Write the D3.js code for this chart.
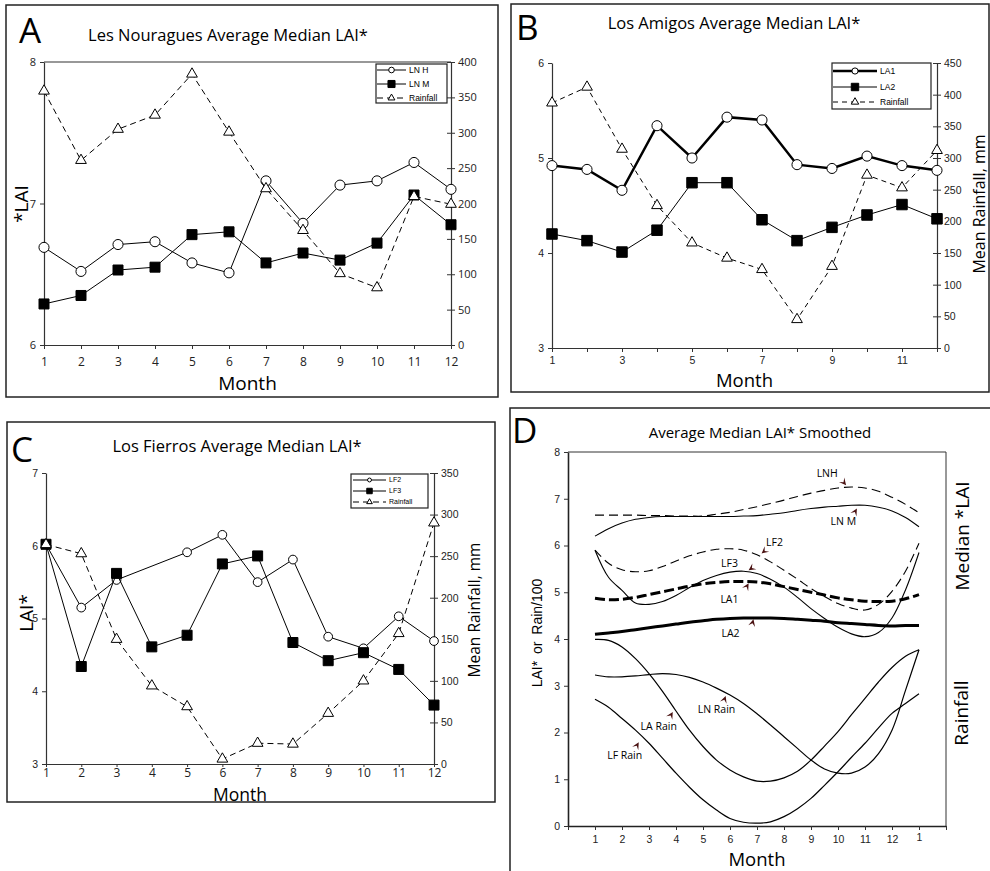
<!DOCTYPE html>
<html>
<head>
<meta charset="utf-8">
<script src="https://cdn.jsdelivr.net/npm/d3@7"></script>
<style>
  body { margin: 0; background: #fff; }
  svg { display: block; }
</style>
</head>
<body>
<div id="chart"></div>
<script>
// ---- data ----
const months = [1, 2, 3, 4, 5, 6, 7, 8, 9, 10, 11, 12];

// A: Les Nouragues
const lnH    = [6.69, 6.52, 6.71, 6.73, 6.58, 6.51, 7.16, 6.86, 7.13, 7.16, 7.29, 7.10];
const lnM    = [6.29, 6.35, 6.53, 6.55, 6.78, 6.80, 6.58, 6.65, 6.60, 6.72, 7.06, 6.85];
const lnRain = [359, 261, 305, 325, 383, 301, 221, 162, 101, 81, 210, 199];

// B: Los Amigos
const la1    = [4.92, 4.88, 4.66, 5.34, 5.00, 5.43, 5.40, 4.93, 4.89, 5.02, 4.92, 4.87];
const la2    = [4.20, 4.13, 4.01, 4.24, 4.74, 4.74, 4.35, 4.13, 4.27, 4.40, 4.51, 4.36];
const laRain = [387, 412, 314, 225, 166, 142, 124, 45, 129, 273, 253, 312];

// C: Los Fierros (LF2 has no month 4)
const lf2    = [6.02, 5.15, 5.53, null, 5.91, 6.15, 5.50, 5.81, 4.75, 4.59, 5.03, 4.69];
const lf3    = [6.02, 4.34, 5.62, 4.61, 4.77, 5.75, 5.86, 4.67, 4.42, 4.53, 4.30, 3.81];
const lfRain = [264, 253, 150, 94, 69, 6, 25, 24, 61, 100, 157, 290];

// D: smoothed curves, half-month steps from month 1 to month 13 (= next January)
const halfMonths = d3.range(1, 13.01, 0.5);
const sLNH    = [6.65, 6.65, 6.65, 6.65, 6.64, 6.64, 6.63, 6.63, 6.63, 6.67, 6.71, 6.77, 6.83, 6.90, 6.97, 7.05, 7.12, 7.18, 7.23, 7.25, 7.23, 7.16, 7.03, 6.88, 6.70];
const sLNM    = [6.20, 6.36, 6.48, 6.56, 6.60, 6.62, 6.62, 6.62, 6.62, 6.62, 6.62, 6.63, 6.64, 6.67, 6.70, 6.75, 6.79, 6.82, 6.84, 6.86, 6.86, 6.82, 6.74, 6.60, 6.40];
const sLF2    = [5.90, 5.62, 5.48, 5.44, 5.46, 5.55, 5.67, 5.78, 5.86, 5.92, 5.93, 5.90, 5.80, 5.65, 5.47, 5.28, 5.08, 4.91, 4.76, 4.66, 4.62, 4.74, 5.02, 5.45, 6.05];
const sLF3    = [5.90, 5.32, 5.04, 4.77, 4.74, 4.80, 4.93, 5.10, 5.25, 5.36, 5.43, 5.45, 5.40, 5.28, 5.11, 4.89, 4.65, 4.44, 4.25, 4.11, 4.05, 4.14, 4.45, 5.05, 5.85];
const sLA1    = [4.87, 4.84, 4.85, 4.89, 4.95, 5.01, 5.07, 5.13, 5.18, 5.21, 5.23, 5.23, 5.22, 5.18, 5.12, 5.06, 5.00, 4.94, 4.88, 4.84, 4.81, 4.80, 4.81, 4.86, 4.95];
const sLA2    = [4.10, 4.13, 4.16, 4.20, 4.24, 4.28, 4.32, 4.36, 4.39, 4.42, 4.44, 4.45, 4.45, 4.45, 4.44, 4.42, 4.40, 4.38, 4.35, 4.33, 4.31, 4.29, 4.28, 4.29, 4.29];
const sLNRain = [3.23, 3.19, 3.19, 3.21, 3.24, 3.26, 3.24, 3.18, 3.08, 2.95, 2.80, 2.62, 2.40, 2.16, 1.91, 1.66, 1.41, 1.22, 1.13, 1.13, 1.26, 1.55, 2.05, 2.90, 3.77];
const sLARain = [3.99, 3.97, 3.83, 3.58, 3.26, 2.88, 2.46, 2.05, 1.70, 1.41, 1.20, 1.05, 0.96, 0.96, 1.03, 1.17, 1.41, 1.71, 2.02, 2.38, 2.73, 3.08, 3.39, 3.63, 3.77];
const sLFRain = [2.71, 2.54, 2.30, 2.05, 1.77, 1.45, 1.13, 0.83, 0.56, 0.34, 0.16, 0.08, 0.06, 0.09, 0.20, 0.37, 0.59, 0.87, 1.16, 1.47, 1.77, 2.10, 2.41, 2.62, 2.83];

// labels in D: text position and arrow tip, in month / value units
const dNotes = [
  {label: "LNH",     tx: 9.6,  ty: 7.54, ax: 10.3, ay: 7.29, ang: 50},
  {label: "LN M",    tx: 10.2, ty: 6.52, ax: 10.7, ay: 6.79, ang: -60},
  {label: "LF2",     tx: 7.65, ty: 6.07, ax: 7.17, ay: 5.83, ang: 140},
  {label: "LF3",     tx: 5.98, ty: 5.62, ax: 6.69, ay: 5.47, ang: 145},
  {label: "LA1",     tx: 5.98, ty: 4.85, ax: 6.69, ay: 5.19, ang: -60},
  {label: "LA2",     tx: 6.02, ty: 4.12, ax: 6.87, ay: 4.42, ang: -75},
  {label: "LN Rain", tx: 5.5,  ty: 2.5,  ax: 5.84, ay: 2.78, ang: -70},
  {label: "LA Rain", tx: 3.36, ty: 2.14, ax: 3.88, ay: 2.44, ang: -60},
  {label: "LF Rain", tx: 2.1,  ty: 1.52, ax: 2.62, ay: 1.79, ang: -60}
];

// ---- drawing ----
const SANS = "'Open Sans', sans-serif";
const ARIAL = "'Liberation Sans', Arial, sans-serif";

const svg = d3.select("#chart").append("svg")
    .attr("width", 990)
    .attr("height", 871);

function symbolPath(type, size) {
  const t = {circle: d3.symbolCircle, square: d3.symbolSquare, triangle: d3.symbolTriangle}[type];
  return d3.symbol(t, size)();
}

function drawPanel(p) {
  const g = svg.append("g");

  // outer frame
  g.append("rect")
      .attr("x", p.box[0]).attr("y", p.box[1])
      .attr("width", p.box[2] - p.box[0]).attr("height", p.box[3] - p.box[1])
      .attr("fill", "none").attr("stroke", "#222").attr("stroke-width", 1.5);

  g.append("text").attr("x", p.letter[0]).attr("y", p.letter[1])
      .style("font-family", SANS).style("font-size", "35px").text(p.name);
  g.append("text").attr("x", p.title[0]).attr("y", p.title[1])
      .attr("text-anchor", "middle")
      .style("font-family", SANS).style("font-size", "16.5px").text(p.titleText);

  const x = d3.scaleLinear().domain([1, 12]).range([p.x0, p.x1]);
  const yL = d3.scaleLinear().domain(p.leftDomain).range([p.y1, p.y0]);
  const yR = d3.scaleLinear().domain(p.rightDomain).range([p.y1, p.y0]);

  if (p.topLine) {
    g.append("line").attr("x1", p.x0).attr("x2", p.x1).attr("y1", p.y0).attr("y2", p.y0)
        .attr("stroke", "#333").attr("stroke-width", 1.2);
  }

  const xAxis = g.append("g")
      .attr("transform", `translate(0,${p.y1})`)
      .call(d3.axisBottom(x).tickValues(months).tickSize(p.xTick || 4).tickSizeOuter(0)
          .tickPadding(p.xPad).tickFormat(p.xFormat || (d => d)));
  xAxis.selectAll("text").style("font-family", p.xFont).style("font-size", p.xFontSize);

  const leftAxis = g.append("g")
      .attr("transform", `translate(${p.x0},0)`)
      .call(d3.axisLeft(yL).tickValues(p.leftTicks).tickSize(4).tickSizeOuter(0)
          .tickPadding(4).tickFormat(d3.format("d")));
  leftAxis.selectAll("text").style("font-family", p.yFont).style("font-size", p.yFontSize);

  const rightAxis = g.append("g")
      .attr("transform", `translate(${p.x1},0)`)
      .call(d3.axisRight(yR).tickValues(d3.range(p.rightDomain[0], p.rightDomain[1] + 1, 50))
          .tickSize(4).tickSizeOuter(0).tickPadding(3));
  rightAxis.selectAll(".tick line").attr("x1", -4);
  rightAxis.selectAll("text").style("font-family", p.yFont).style("font-size", p.rFontSize);

  [xAxis, leftAxis, rightAxis].forEach(a => {
    a.select(".domain").attr("stroke", "#333").attr("stroke-width", 1.2);
    a.selectAll(".tick line").attr("stroke", "#333");
    a.selectAll("text").attr("fill", "#222");
  });

  // axis titles
  g.append("text").attr("x", (p.x0 + p.x1) / 2).attr("y", p.monthY)
      .attr("text-anchor", "middle")
      .style("font-family", SANS).style("font-size", p.monthSize || "19px").text("Month");
  if (p.leftLabel) {
    g.append("text")
        .attr("transform", `translate(${p.leftLabel[0]},${p.leftLabel[1]}) rotate(-90)`)
        .attr("text-anchor", "middle").attr("dy", "0.35em")
        .style("font-family", SANS).style("font-size", "19px").text(p.leftLabel[2]);
  }
  if (p.rightLabel) {
    g.append("text")
        .attr("transform", `translate(${p.rightLabel[0]},${p.rightLabel[1]}) rotate(-90)`)
        .attr("text-anchor", "middle").attr("dy", "0.35em")
        .style("font-family", SANS).style("font-size", p.rightLabel[2]).text("Mean Rainfall, mm");
  }

  // series
  p.series.forEach(s => {
    const y = s.axis === "left" ? yL : yR;
    const pts = months.map((m, i) => [m, s.values[i]]).filter(d => d[1] != null);
    g.append("path").datum(pts)
        .attr("d", d3.line().x(d => x(d[0])).y(d => y(d[1])))
        .attr("fill", "none").attr("stroke", "#000")
        .attr("stroke-width", s.width).attr("stroke-dasharray", s.dash || null);
    g.selectAll(null).data(pts).join("path")
        .attr("transform", d => `translate(${x(d[0])},${y(d[1])})`)
        .attr("d", symbolPath(s.marker, s.size))
        .attr("fill", s.marker === "square" ? "#000" : "#fff")
        .attr("stroke", "#000").attr("stroke-width", 1);
  });

  // legend
  const L = p.legend;
  const lg = g.append("g");
  lg.append("rect").attr("x", L.box[0]).attr("y", L.box[1])
      .attr("width", L.box[2] - L.box[0]).attr("height", L.box[3] - L.box[1])
      .attr("fill", "#fff").attr("stroke", "#222").attr("stroke-width", 1.2);
  p.series.forEach((s, i) => {
    const ry = L.rows[i];
    lg.append("line").attr("x1", L.lineX[0]).attr("x2", L.lineX[1]).attr("y1", ry).attr("y2", ry)
        .attr("stroke", "#000").attr("stroke-width", s.width).attr("stroke-dasharray", s.dash || null);
    lg.append("path").attr("transform", `translate(${(L.lineX[0] + L.lineX[1]) / 2},${ry})`)
        .attr("d", symbolPath(s.marker, s.legendSize))
        .attr("fill", s.marker === "square" ? "#000" : "#fff")
        .attr("stroke", "#000");
    lg.append("text").attr("x", L.textX).attr("y", ry).attr("dy", "0.35em")
        .style("font-family", ARIAL).style("font-size", L.font).text(s.name);
  });
}

drawPanel({
  name: "A", letter: [19, 43], title: [228, 41], titleText: "Les Nouragues Average Median LAI*",
  box: [6, 5, 498, 397], x0: 44, x1: 451, y0: 62, y1: 345, topLine: true,
  leftDomain: [6, 8], leftTicks: [6, 7, 8], rightDomain: [0, 400],
  xPad: 8, xFont: SANS, xFontSize: "12px", yFont: SANS, yFontSize: "11px", rFontSize: "11px",
  monthY: 390, leftLabel: [21, 204, "*LAI"], rightLabel: null,
  series: [
    {name: "LN H", values: lnH, axis: "left", marker: "circle", size: 80, legendSize: 25, width: 1},
    {name: "LN M", values: lnM, axis: "left", marker: "square", size: 100, legendSize: 50, width: 1},
    {name: "Rainfall", values: lnRain, axis: "right", marker: "triangle", size: 50, legendSize: 20, width: 1, dash: "6,4"}
  ],
  legend: {box: [376, 64, 447, 103], rows: [70, 84, 98], lineX: [377, 406], textX: 409, font: "8.5px"}
});

drawPanel({
  name: "B", letter: [516, 40], title: [734, 29], titleText: "Los Amigos Average Median LAI*",
  box: [511, 4, 989, 392], x0: 552, x1: 937, y0: 63, y1: 348, topLine: false,
  leftDomain: [3, 6], leftTicks: [3, 4, 5, 6], rightDomain: [0, 450],
  xPad: 5, xFont: ARIAL, xFontSize: "10.5px", yFont: ARIAL, yFontSize: "10.5px", rFontSize: "10.5px",
  xFormat: d => (d % 2 === 1 ? d : ""),
  monthY: 387, monthSize: "18.5px", leftLabel: null, rightLabel: [979, 204, "16px"],
  series: [
    {name: "LA1", values: la1, axis: "left", marker: "circle", size: 80, legendSize: 30, width: 2.5},
    {name: "LA2", values: la2, axis: "left", marker: "square", size: 110, legendSize: 55, width: 1},
    {name: "Rainfall", values: laRain, axis: "right", marker: "triangle", size: 50, legendSize: 24, width: 1, dash: "5,4"}
  ],
  legend: {box: [832, 63, 931, 109], rows: [71, 87, 102], lineX: [833, 877], textX: 880, font: "8.5px"}
});

drawPanel({
  name: "C", letter: [11, 462], title: [237, 452], titleText: "Los Fierros Average Median LAI*",
  box: [7, 422, 495, 802], x0: 46, x1: 434, y0: 473, y1: 764, topLine: false,
  leftDomain: [3, 7], leftTicks: [3, 4, 5, 6, 7], rightDomain: [0, 350],
  xTick: 3, xPad: 1.5, xFont: SANS, xFontSize: "12px", yFont: ARIAL, yFontSize: "10.5px", rFontSize: "10.5px",
  monthY: 801, monthSize: "17.5px", leftLabel: [26, 613, "LAI*"], rightLabel: [475, 610, "15.5px"],
  series: [
    {name: "LF2", values: lf2, axis: "left", marker: "circle", size: 60, legendSize: 12, width: 1},
    {name: "LF3", values: lf3, axis: "left", marker: "square", size: 100, legendSize: 30, width: 1},
    {name: "Rainfall", values: lfRain, axis: "right", marker: "triangle", size: 50, legendSize: 14, width: 1, dash: "6,4"}
  ],
  legend: {box: [351, 474, 428, 508], rows: [480, 491, 502], lineX: [353, 386], textX: 389, font: "7px"}
});

// ---- panel D ----
const gD = svg.append("g");
gD.append("path")
    .attr("d", "M510,871 V408 H990")
    .attr("fill", "none").attr("stroke", "#222").attr("stroke-width", 1.5);
gD.append("text").attr("x", 512).attr("y", 443)
    .style("font-family", SANS).style("font-size", "35px").text("D");
gD.append("text").attr("x", 760).attr("y", 438).attr("text-anchor", "middle")
    .style("font-family", SANS).style("font-size", "15px").text("Average Median LAI* Smoothed");

const xD = d3.scaleLinear().domain([0, 14]).range([568, 946]);
const yD = d3.scaleLinear().domain([0, 8]).range([826, 452]);

// plot frame (top and right)
gD.append("path")
    .attr("d", `M${xD(0)},${yD(8)} H${xD(14)} V${yD(0)}`)
    .attr("fill", "none").attr("stroke", "#333").attr("stroke-width", 1);

const dxAxis = gD.append("g")
    .attr("transform", `translate(0,${yD(0)})`)
    .call(d3.axisBottom(xD).tickValues(d3.range(0, 15)).tickSize(4).tickSizeOuter(0).tickPadding(6)
        .tickFormat(d => (d >= 1 && d <= 12 ? d : d === 13 ? "1" : "")));
dxAxis.selectAll(".tick").filter(d => d === 13).select("text").attr("dy", "0.5em");

const dyAxis = gD.append("g")
    .attr("transform", `translate(${xD(0)},0)`)
    .call(d3.axisLeft(yD).tickValues(d3.range(0, 9)).tickSize(4).tickSizeOuter(0).tickPadding(4));

[dxAxis, dyAxis].forEach(a => {
  a.select(".domain").attr("stroke", "#222").attr("stroke-width", 1.6);
  a.selectAll(".tick line").attr("stroke", "#333");
  a.selectAll("text").attr("fill", "#222").style("font-family", ARIAL).style("font-size", "10.5px");
});

gD.append("text").attr("x", (xD(0) + xD(14)) / 2).attr("y", 866).attr("text-anchor", "middle")
    .style("font-family", SANS).style("font-size", "18.5px").text("Month");
gD.append("text").attr("transform", "translate(537,633) rotate(-90)")
    .attr("text-anchor", "middle").attr("dy", "0.35em")
    .style("font-family", ARIAL).style("font-size", "14px").style("word-spacing", "3px")
    .text("LAI* or Rain/100");
gD.append("text").attr("transform", "translate(962,536) rotate(-90)")
    .attr("text-anchor", "middle").attr("dy", "0.35em")
    .style("font-family", SANS).style("font-size", "19px").text("Median *LAI");
gD.append("text").attr("transform", "translate(961,713) rotate(-90)")
    .attr("text-anchor", "middle").attr("dy", "0.35em")
    .style("font-family", SANS).style("font-size", "19px").text("Rainfall");

const smoothSeries = [
  {values: sLNH, width: 1.1, dash: "9,5"},
  {values: sLNM, width: 1.1},
  {values: sLF2, width: 1.1, dash: "9,5"},
  {values: sLF3, width: 1.1},
  {values: sLA1, width: 3, dash: "10,4"},
  {values: sLA2, width: 3},
  {values: sLNRain, width: 1.2},
  {values: sLARain, width: 1.2},
  {values: sLFRain, width: 1.2}
];

const dLine = d3.line().x(d => xD(d[0])).y(d => yD(d[1])).curve(d3.curveCatmullRom.alpha(0.5));
smoothSeries.forEach(s => {
  gD.append("path")
      .datum(halfMonths.map((m, i) => [m, s.values[i]]))
      .attr("d", dLine)
      .attr("fill", "none").attr("stroke", "#000")
      .attr("stroke-width", s.width).attr("stroke-dasharray", s.dash || null);
});

// labels with small arrowheads
const notes = gD.append("g");
notes.selectAll("text").data(dNotes).join("text")
    .attr("x", d => xD(d.tx)).attr("y", d => yD(d.ty))
    .attr("text-anchor", "middle").attr("dy", "0.35em")
    .style("font-family", SANS).style("font-size", "10.5px").text(d => d.label);
notes.selectAll("path").data(dNotes).join("path")
    .attr("transform", d => `translate(${xD(d.ax)},${yD(d.ay)}) rotate(${d.ang})`)
    .attr("d", "M0,0 L-7,-3.5 L-4,0 L-7,3.5 Z")
    .attr("fill", "#4a1212");
</script>
</body>
</html>
